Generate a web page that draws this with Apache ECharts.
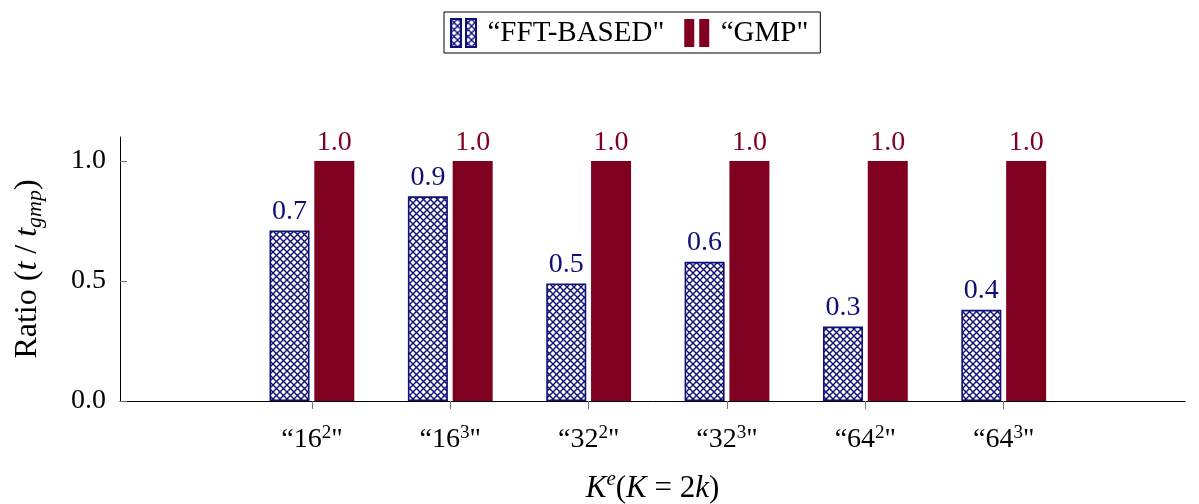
<!DOCTYPE html>
<html><head><meta charset="utf-8">
<script src="https://cdn.jsdelivr.net/npm/echarts@6/dist/echarts.min.js"></script>
<style>html,body{margin:0;padding:0;background:#fff}#c{width:1199px;height:504px}</style>
</head><body><div id="c"></div>
<script>
const categories = ['16', '16', '32', '32', '64', '64'];
const exponents = ['2', '3', '2', '3', '2', '3'];
const fftValues = [0.71, 0.853, 0.49, 0.58, 0.31, 0.38];
const gmpValues = [1.0, 1.0, 1.0, 1.0, 1.0, 1.0];
const yTicks = [0, 0.5, 1.0];

const NAVY = '#0f0f78';
const RED = '#80001f';
const FONT = 'Liberation Serif';

function hatch() {
  const s = 7;
  const c = document.createElement('canvas');
  c.width = s; c.height = s;
  const g = c.getContext('2d');
  g.fillStyle = '#fff'; g.fillRect(0, 0, s, s);
  g.strokeStyle = NAVY; g.lineWidth = 1.4;
  g.beginPath();
  g.moveTo(-1, -1); g.lineTo(s + 1, s + 1);
  g.moveTo(s + 1, -1); g.lineTo(-1, s + 1);
  g.stroke();
  return c;
}
const pat = { image: hatch(), repeat: 'repeat' };

const idx = categories.map((_, i) => i);
const chart = echarts.init(document.getElementById('c'), null, { renderer: 'canvas' });
chart.setOption({
  animation: false,
  textStyle: { fontFamily: FONT },
  legend: {
    top: 12, left: 444,
    itemWidth: 26, itemHeight: 28, itemGap: 20,
    padding: [6, 12, 5, 6],
    borderColor: '#000', borderWidth: 1, borderRadius: 0,
    textStyle: { fontFamily: FONT, fontSize: 29, color: '#000', padding: [0, 0, 0, 6] },
    data: [
      { name: '“FFT-BASED"', icon: 'path://M0,0h10v28h-10z M15,0h10v28h-10z' },
      { name: '“GMP"', icon: 'path://M0,0h10v28h-10z M15,0h10v28h-10z' }
    ]
  },
  grid: { left: 120, right: 14, top: 137, bottom: 103, outerBoundsMode: 'none', containLabel: false },
  xAxis: {
    type: 'value', min: -1.387, max: 6.31,
    splitLine: { show: false },
    axisLine: { lineStyle: { color: '#000', width: 1 } },
    axisTick: { show: true, customValues: idx, length: 8, inside: false, lineStyle: { color: '#777', width: 1 } },
    axisLabel: {
      customValues: idx, margin: 23,
      formatter: v => { const i = Math.round(v); return '{a|“' + categories[i] + '}{s|' + exponents[i] + '}{a|"}'; },
      rich: {
        a: { fontFamily: FONT, fontSize: 28, color: '#000', verticalAlign: 'bottom', lineHeight: 30 },
        s: { fontFamily: FONT, fontSize: 19, color: '#000', verticalAlign: 'top', lineHeight: 30, padding: [0, 0, 14, 0] }
      }
    },
    name: '{i|K}{s|e}{n|(}{i|K}{n| = 2}{i|k}{n|)}',
    nameLocation: 'middle', nameGap: 68,
    nameTextStyle: {
      rich: {
        i: { fontFamily: FONT, fontStyle: 'italic', fontSize: 31, color: '#000' },
        n: { fontFamily: FONT, fontSize: 31, color: '#000' },
        s: { fontFamily: FONT, fontStyle: 'italic', fontSize: 21, color: '#000', padding: [0, 0, 18, 0] }
      }
    }
  },
  yAxis: {
    type: 'value', min: 0, max: 1.1,
    splitLine: { show: false },
    axisLine: { show: true, onZero: false, lineStyle: { color: '#000', width: 1 } },
    axisTick: { show: true, inside: true, length: 7, customValues: yTicks, lineStyle: { color: '#777', width: 1 } },
    axisLabel: {
      customValues: yTicks, margin: 14,
      formatter: v => v.toFixed(1),
      fontFamily: FONT, fontSize: 28, color: '#000'
    },
    name: '{n|Ratio (}{i|t}{n| / }{i|t}{s|gmp}{n|)}',
    nameLocation: 'middle', nameGap: 74,
    nameTextStyle: {
      rich: {
        n: { fontFamily: FONT, fontSize: 32, color: '#000' },
        i: { fontFamily: FONT, fontStyle: 'italic', fontSize: 32, color: '#000' },
        s: { fontFamily: FONT, fontStyle: 'italic', fontSize: 22, color: '#000', padding: [14, 0, 0, 0] }
      }
    }
  },
  series: [
    {
      name: '“FFT-BASED"', type: 'bar', barWidth: 40, barGap: '12%',
      data: fftValues.map((v, i) => [i, v]),
      itemStyle: { color: pat, borderColor: NAVY, borderWidth: 1.6 },
      label: { show: true, position: 'top', distance: 5, fontFamily: FONT, fontSize: 28, color: NAVY,
        formatter: p => (Math.round(p.value[1] * 10) / 10).toFixed(1) }
    },
    {
      name: '“GMP"', type: 'bar', barWidth: 40, barGap: '12%',
      data: gmpValues.map((v, i) => [i, v]),
      itemStyle: { color: RED },
      label: { show: true, position: 'top', distance: 4, fontFamily: FONT, fontSize: 28, color: RED,
        formatter: p => (Math.round(p.value[1] * 10) / 10).toFixed(1) }
    }
  ]
});
</script></body></html>
